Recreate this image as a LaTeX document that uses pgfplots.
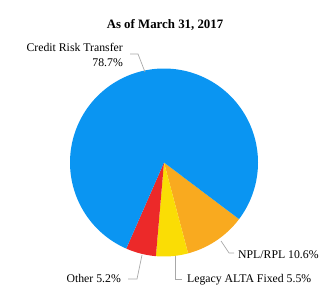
\documentclass[border=0pt]{standalone}
\usepackage{pgfplots}
\pgfplotsset{compat=1.18}
\usepackage{fontspec}
\setmainfont{Liberation Serif}
\definecolor{cblue}{HTML}{0A95F2}
\definecolor{corange}{HTML}{F9AA1F}
\definecolor{cyellow}{HTML}{FADD05}
\definecolor{cred}{HTML}{EC2929}
\definecolor{cline}{HTML}{A8A8A8}
% shares (percent), drawn clockwise from -37 degrees
\def\pNPL{10.6}
\def\pLeg{5.5}
\def\pOth{5.2}
\def\pCRT{78.7}
\begin{document}
\begin{tikzpicture}
\pgfmathsetmacro{\aA}{-37}
\pgfmathsetmacro{\aB}{\aA-3.6*\pNPL}
\pgfmathsetmacro{\aC}{\aB-3.6*\pLeg}
\pgfmathsetmacro{\aD}{\aC-3.6*\pOth}
\pgfmathsetmacro{\aE}{\aD-3.6*\pCRT}
\begin{axis}[
  scale only axis, width=333bp, height=300bp,
  xmin=0, xmax=333, ymin=0, ymax=300,
  hide axis, clip=false,
]
\path (axis cs:0,0) rectangle (axis cs:333,300);
\def\cx{164}\def\cy{137.5}\def\rr{94}
\addplot[fill=corange, draw=none, domain=\aB:\aA, samples=40] ({\cx+\rr*cos(x)},{\cy+\rr*sin(x)}) -- (axis cs:\cx,\cy) -- cycle;
\addplot[fill=cyellow, draw=none, domain=\aC:\aB, samples=30] ({\cx+\rr*cos(x)},{\cy+\rr*sin(x)}) -- (axis cs:\cx,\cy) -- cycle;
\addplot[fill=cred, draw=none, domain=\aD:\aC, samples=30] ({\cx+\rr*cos(x)},{\cy+\rr*sin(x)}) -- (axis cs:\cx,\cy) -- cycle;
\addplot[fill=cblue, draw=none, domain=\aE:\aD, samples=200] ({\cx+\rr*cos(x)},{\cy+\rr*sin(x)}) -- (axis cs:\cx,\cy) -- cycle;
% leader lines
\addplot[cline, line width=0.7pt] coordinates {(130,246) (138,246) (145,228)};
\addplot[cline, line width=0.7pt] coordinates {(221,59) (229,47) (234,47)};
\addplot[cline, line width=0.7pt] coordinates {(175,44) (175,21) (182,21)};
\addplot[cline, line width=0.7pt] coordinates {(142,45) (137,21) (128,21)};
% texts
\node[anchor=base, inner sep=0pt, font=\bfseries\fontsize{12.9}{14}\selectfont] at (axis cs:165,272) {As of March 31, 2017};
\node[anchor=base east, inner sep=0pt, font=\fontsize{11.8}{13}\selectfont] at (axis cs:123,249) {Credit Risk Transfer};
\node[anchor=base east, inner sep=0pt, font=\fontsize{11.8}{13}\selectfont] at (axis cs:123,234) {78.7\%};
\node[anchor=base west, inner sep=0pt, font=\fontsize{11.8}{13}\selectfont] at (axis cs:238,42) {NPL/RPL 10.6\%};
\node[anchor=base west, inner sep=0pt, font=\fontsize{11.8}{13}\selectfont] at (axis cs:187,18) {Legacy ALTA Fixed 5.5\%};
\node[anchor=base east, inner sep=0pt, font=\fontsize{11.8}{13}\selectfont] at (axis cs:121,17.5) {Other 5.2\%};
\end{axis}
\end{tikzpicture}
\end{document}
